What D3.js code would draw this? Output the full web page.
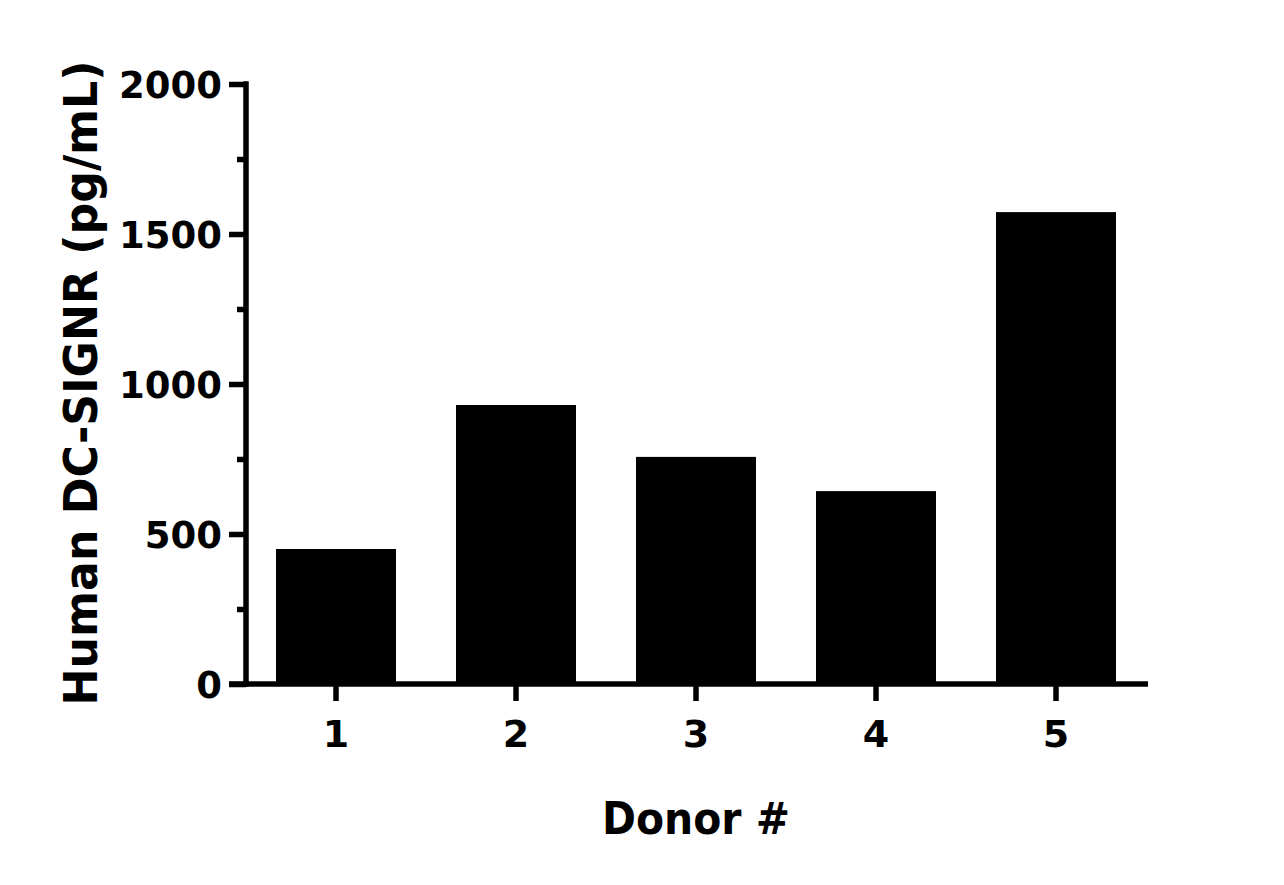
<!DOCTYPE html>
<html>
<head>
<meta charset="utf-8">
<script src="https://cdn.jsdelivr.net/npm/d3@7"></script>
<style>
  html, body { margin: 0; padding: 0; background: #fff; }
  svg { display: block; }
  text { font-family: "DejaVu Sans", sans-serif; font-weight: bold; fill: #000; }
</style>
</head>
<body>
<svg id="chart" width="1284" height="885"></svg>
<script>
const categories = ["1", "2", "3", "4", "5"];
const values = [450, 930, 757, 643, 1573];
const majorTicks = [0, 500, 1000, 1500, 2000];
const minorTicks = [250, 750, 1250, 1750];
const xTitle = "Donor #";
const yTitle = "Human DC-SIGNR (pg/mL)";

(function () {
const svg = d3.select("#chart");
const pL = 246, pR = 1146, pT = 84, pB = 684;
const sw = 5.5;

const y = d3.scaleLinear().domain([0, 2000]).range([pB, pT]);
const x = d3.scaleBand().domain(categories).range([pL, pR])
  .paddingInner(1/3).paddingOuter(1/6);

// bars
svg.append("g").selectAll("rect").data(values).join("rect")
  .attr("x", (d, i) => x(categories[i]))
  .attr("width", x.bandwidth())
  .attr("y", d => y(d))
  .attr("height", d => y(0) - y(d))
  .attr("fill", "#000");

// y axis (major)
const gy = svg.append("g").attr("transform", `translate(${pL},0)`)
  .call(d3.axisLeft(y).tickValues(majorTicks).tickSize(17).tickPadding(7).tickFormat(d3.format("d")));
gy.select(".domain").remove();
gy.selectAll(".tick line").attr("stroke", "#000").attr("stroke-width", sw);
gy.selectAll(".tick text").attr("font-size", 37).attr("font-family", "DejaVu Sans").attr("font-weight", "bold").attr("dy", "0.36em");
// minor ticks
const gym = svg.append("g").attr("transform", `translate(${pL},0)`)
  .call(d3.axisLeft(y).tickValues(minorTicks).tickSize(9).tickFormat(""));
gym.select(".domain").remove();
gym.selectAll(".tick line").attr("stroke", "#000").attr("stroke-width", sw);
// y axis line
svg.append("line").attr("x1", pL).attr("x2", pL)
  .attr("y1", y(2000) - sw/2).attr("y2", y(0) + sw/2)
  .attr("stroke", "#000").attr("stroke-width", sw);

// x axis
const gx = svg.append("g").attr("transform", `translate(0,${pB})`)
  .call(d3.axisBottom(x).tickSize(17).tickPadding(19));
gx.select(".domain").remove();
gx.selectAll(".tick line").attr("stroke", "#000").attr("stroke-width", sw);
gx.selectAll(".tick text").attr("font-size", 38).attr("font-family", "DejaVu Sans").attr("font-weight", "bold");
svg.append("line").attr("x1", pL - 17).attr("x2", pR + 2)
  .attr("y1", pB).attr("y2", pB)
  .attr("stroke", "#000").attr("stroke-width", sw);

// titles
svg.append("text").attr("x", (pL + pR) / 2).attr("y", 834)
  .attr("text-anchor", "middle").attr("font-size", 44)
  .attr("textLength", 188).attr("lengthAdjust", "spacingAndGlyphs")
  .text(xTitle);
svg.append("text")
  .attr("transform", `translate(97,${(pT + pB) / 2 - 1}) rotate(-90)`)
  .attr("text-anchor", "middle").attr("font-size", 47)
  .attr("textLength", 645).attr("lengthAdjust", "spacingAndGlyphs")
  .text(yTitle);
})();
</script>
</body>
</html>
